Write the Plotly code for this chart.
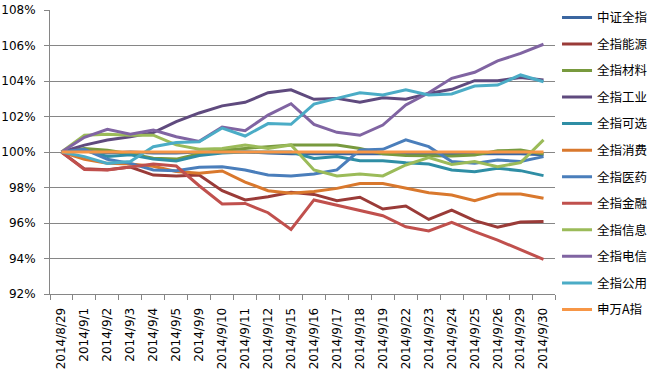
import plotly.graph_objects as go

dates = ["2014/8/29", "2014/9/1", "2014/9/2", "2014/9/3", "2014/9/4", "2014/9/5",
         "2014/9/9", "2014/9/10", "2014/9/11", "2014/9/12", "2014/9/15", "2014/9/16",
         "2014/9/17", "2014/9/18", "2014/9/19", "2014/9/22", "2014/9/23", "2014/9/24",
         "2014/9/25", "2014/9/26", "2014/9/29", "2014/9/30"]

zhongzheng = [100, 100.05, 99.95, 100.0, 99.95, 99.95, 100.0, 100.0, 100.0, 99.95, 99.9,
              99.9, 99.9, 99.9, 99.9, 99.9, 99.9, 99.9, 99.9, 99.9, 99.9, 99.85]
energy = [100, 99.05, 99.0, 99.15, 98.7, 98.65, 98.7, 97.82, 97.3, 97.48, 97.73,
          97.61, 97.26, 97.45, 96.79, 96.96, 96.2, 96.73, 96.13, 95.76, 96.06, 96.09]
materials = [100, 100.2, 100.1, 99.9, 99.65, 99.6, 99.9, 100.1, 100.2, 100.3, 100.4,
             100.4, 100.4, 100.2, 99.9, 99.8, 99.78, 99.77, 99.83, 100.07, 100.11, 99.89]
industry = [100, 100.39, 100.68, 100.86, 101.09, 101.71, 102.2, 102.6, 102.8, 103.34, 103.5,
            102.97, 103.02, 102.8, 103.06, 102.97, 103.3, 103.53, 104.02, 104.02, 104.19, 104.06]
discretionary = [100, 100.1, 99.75, 99.85, 99.6, 99.5, 99.8, 99.95, 100.0, 100.0, 100.0,
                 99.64, 99.74, 99.51, 99.51, 99.4, 99.32, 98.99, 98.89, 99.08, 98.95, 98.67]
consumer = [100, 99.59, 99.36, 99.32, 99.2, 98.9, 98.8, 98.93, 98.3, 97.82, 97.67,
            97.78, 97.95, 98.23, 98.23, 97.95, 97.71, 97.58, 97.26, 97.63, 97.63, 97.39]
pharma = [100, 100.15, 99.59, 99.36, 98.99, 98.95, 99.14, 99.17, 98.99, 98.7, 98.65,
          98.76, 98.99, 100.11, 100.15, 100.68, 100.3, 99.46, 99.36, 99.55, 99.46, 99.74]
finance = [100, 99.02, 98.99, 99.14, 99.32, 99.21, 98.1, 97.07, 97.1, 96.58, 95.64,
           97.3, 97.01, 96.73, 96.41, 95.79, 95.55, 96.04, 95.51, 95.04, 94.48, 93.95]
info = [100, 100.95, 101.0, 100.95, 100.95, 100.4, 100.15, 100.2, 100.4, 100.2, 100.4,
        98.99, 98.65, 98.76, 98.65, 99.27, 99.68, 99.3, 99.46, 99.17, 99.4, 100.68]
telecom = [100, 100.83, 101.28, 101.0, 101.24, 100.86, 100.6, 101.41, 101.2, 102.08, 102.72,
           101.56, 101.11, 100.94, 101.52, 102.65, 103.34, 104.15, 104.49, 105.13, 105.56, 106.07]
utilities = [100, 99.74, 99.36, 99.46, 100.3, 100.53, 100.58, 101.35, 100.9, 101.6, 101.56,
             102.7, 103.02, 103.34, 103.21, 103.5, 103.21, 103.27, 103.72, 103.77, 104.34, 103.96]
swa = [100] * 22

names = ["中证全指", "全指能源", "全指材料", "全指工业", "全指可选", "全指消费",
         "全指医药", "全指金融", "全指信息", "全指电信", "全指公用", "申万A指"]
series = [zhongzheng, energy, materials, industry, discretionary, consumer,
          pharma, finance, info, telecom, utilities, swa]
colors = ["#3B66A0", "#9A3B38", "#789A3E", "#5F4A7E", "#2F8EA5", "#D9782D",
          "#4A7EBB", "#C0504D", "#9BBB59", "#8064A2", "#4BACC6", "#F79646"]

fig = go.Figure()
for n, s, c in zip(names, series, colors):
    fig.add_trace(go.Scatter(x=dates, y=s, name=n, mode="lines", legendgroup=n,
                             line=dict(color=c, width=3)))

fig.update_layout(
    width=650, height=380,
    margin=dict(l=50, r=95, t=10, b=86, autoexpand=False),
    paper_bgcolor="white", plot_bgcolor="white",
    font=dict(family="DejaVu Sans, Noto Sans CJK SC", size=12, color="#000000"),
    showlegend=True,
    legend=dict(x=1.004, xanchor="left", y=1.0255, yanchor="top",
                font=dict(family="Noto Sans CJK SC", size=12.5, color="#000000"),
                tracegroupgap=7.3, bgcolor="rgba(0,0,0,0)", itemwidth=30,
                maxheight=375),
)
fig.update_xaxes(type="category", range=[-0.5, 21.5], tickangle=-90, automargin=False,
                 showline=True, linecolor="#868686", linewidth=1,
                 ticks="outside", tickson="boundaries", ticklen=5, tickcolor="#868686",
                 showgrid=False, tickfont=dict(family="DejaVu Sans", size=12),
                 ticklabelstandoff=8)
fig.update_yaxes(range=[92, 108], dtick=2, ticksuffix="%", automargin=False,
                 showline=True, linecolor="#868686", linewidth=1,
                 ticks="outside", ticklen=5, tickcolor="#868686",
                 showgrid=True, gridcolor="#868686", gridwidth=1,
                 zeroline=False, tickfont=dict(family="DejaVu Sans", size=12),
                 ticklabelstandoff=6)

fig.write_html("out.html", config={"displayModeBar": False},
               post_script="document.body.style.margin='0';document.body.style.padding='0';")
